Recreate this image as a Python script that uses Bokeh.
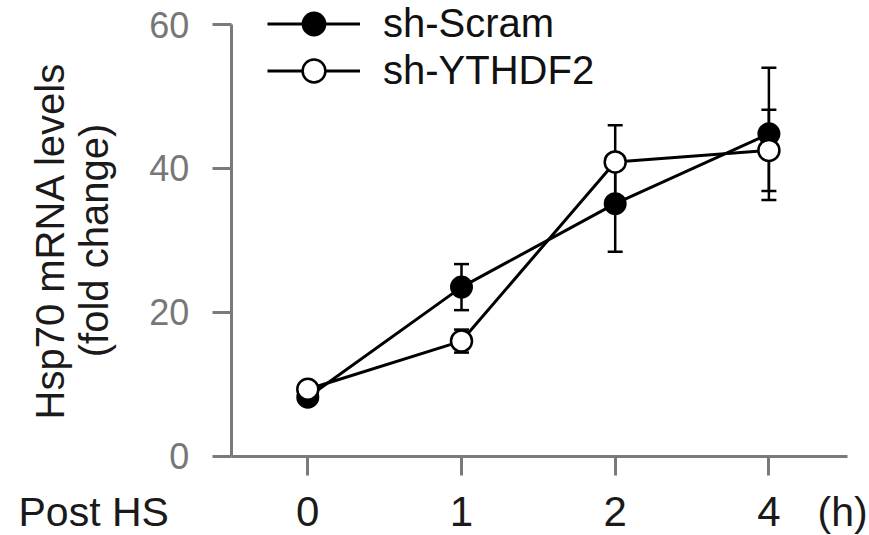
from bokeh.plotting import figure
from bokeh.models import Range1d, ColumnDataSource, Whisker, TeeHead, Legend, LegendItem, Label, FixedTicker
from bokeh.embed import file_html
from bokeh.resources import INLINE

categories = ["0", "1", "2", "4"]
scram = [8.2, 23.5, 35.1, 44.8]
scram_err = [0.6, 3.2, 6.7, 9.2]
ythdf2 = [9.3, 16.0, 40.9, 42.5]
ythdf2_err = [0.6, 1.6, 5.1, 5.65]
y_ticks = [0, 20, 40, 60]

xs = list(range(len(categories)))

FONT = "Liberation Sans"
W, H = 869, 535
# layout (pixels inside the figure)
X0_PX, X_STEP = 307.3, 153.7      # position of first category, spacing
Y0_PX, Y_UNIT = 455.7, 7.195      # pixel row of y=0, px per unit
x_start = -X0_PX / X_STEP
x_end = (W - X0_PX) / X_STEP
y_end = Y0_PX / Y_UNIT
y_start = -(H - Y0_PX) / Y_UNIT
yaxis_at = (230.7 - X0_PX) / X_STEP
xaxis_end = (846.7 - X0_PX) / X_STEP

p = figure(width=W, height=H, output_backend="svg", toolbar_location=None,
           x_range=Range1d(x_start, x_end), y_range=Range1d(y_start, y_end),
           min_border_left=0, min_border_right=0, min_border_top=0, min_border_bottom=0)
p.outline_line_color = None
p.grid.visible = False
p.background_fill_color = "white"

def whisk(vals, errs):
    src = ColumnDataSource(dict(x=xs, lo=[v - e for v, e in zip(vals, errs)],
                                hi=[v + e for v, e in zip(vals, errs)]))
    w = Whisker(source=src, base="x", lower="lo", upper="hi", line_color="black", line_width=2.5,
                upper_head=TeeHead(size=15, line_width=2.5, line_color="black"),
                lower_head=TeeHead(size=15, line_width=2.5, line_color="black"))
    p.add_layout(w)

whisk(scram, scram_err)
whisk(ythdf2, ythdf2_err)

l1 = p.line(xs, scram, line_color="black", line_width=3)
l2 = p.line(xs, ythdf2, line_color="black", line_width=3)
m1 = p.scatter(xs, scram, size=21, fill_color="black", line_color="black", line_width=2)
m2 = p.scatter(xs, ythdf2, size=21, fill_color="white", line_color="black", line_width=2.5)

def make_legend(label, rends, center_from_top):
    gh = 57
    return Legend(items=[LegendItem(label=label, renderers=rends)],
                  location=(267, H - center_from_top - gh / 2), orientation="vertical",
                  glyph_width=93, glyph_height=gh, label_height=gh, spacing=0,
                  padding=0, margin=0, label_standoff=23,
                  label_text_font=FONT, label_text_font_size="40px", label_text_color="#111111",
                  background_fill_alpha=0, border_line_color=None)

p.add_layout(make_legend("sh-Scram", [l1, m1], 23))
p.add_layout(make_legend("sh-YTHDF2", [l2, m2], 70))

AXIS_GREY = "#7a7a7a"

# y axis
ya = p.yaxis[0]
ya.fixed_location = yaxis_at
ya.bounds = (0, 60)
ya.ticker = FixedTicker(ticks=y_ticks)
ya.axis_line_color = AXIS_GREY
ya.axis_line_width = 3
ya.major_tick_line_color = AXIS_GREY
ya.major_tick_line_width = 3
ya.major_tick_out = 19
ya.major_tick_in = 0
ya.minor_tick_line_color = None
ya.major_label_text_font = FONT
ya.major_label_text_font_size = "36px"
ya.major_label_text_color = "#777777"
ya.major_label_standoff = 23
ya.axis_label = "Hsp70 mRNA levels\n(fold change)"
ya.axis_label_text_font = FONT
ya.axis_label_text_font_size = "40px"
ya.axis_label_text_font_style = "normal"
ya.axis_label_text_color = "#1a1a1a"
ya.axis_label_text_line_height = 1.0
ya.axis_label_standoff = 30

# x axis
xa = p.xaxis[0]
xa.fixed_location = 0
xa.bounds = (yaxis_at, xaxis_end)
xa.ticker = FixedTicker(ticks=xs)
xa.major_label_overrides = {i: c for i, c in zip(xs, categories)}
xa.axis_line_color = AXIS_GREY
xa.axis_line_width = 3
xa.major_tick_line_color = AXIS_GREY
xa.major_tick_line_width = 3
xa.major_tick_out = 19
xa.major_tick_in = 0
xa.minor_tick_line_color = None
xa.major_label_text_font = FONT
xa.major_label_text_font_size = "42px"
xa.major_label_text_color = "#1a1a1a"
xa.major_label_standoff = 22

p.add_layout(Label(x=18, y=24, x_units="screen", y_units="screen", text="Post HS",
                   text_font=FONT, text_font_size="41px", text_color="#1a1a1a",
                   text_align="left", text_baseline="alphabetic"))
p.add_layout(Label(x=817, y=24, x_units="screen", y_units="screen", text="(h)",
                   text_font=FONT, text_font_size="41px", text_color="#1a1a1a",
                   text_align="left", text_baseline="alphabetic"))

open("out.html", "w").write(file_html(p, INLINE))
